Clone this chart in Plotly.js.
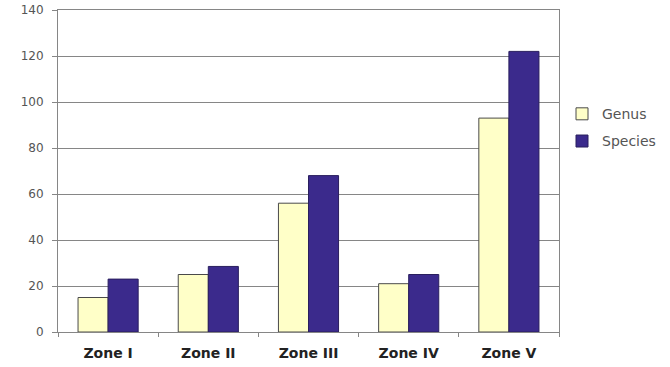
<!DOCTYPE html>
<html>
<head>
<meta charset="utf-8">
<script src="https://cdn.plot.ly/plotly-3.0.1.min.js"></script>
<style>
  html, body { margin: 0; padding: 0; background: #ffffff; }
  #chart { width: 670px; height: 367px; }
</style>
</head>
<body>
<div id="chart"></div>
<script>
// Zones sampled and the number of genera / species recorded in each
const zones = ['Zone I', 'Zone II', 'Zone III', 'Zone IV', 'Zone V'];
const genusCounts = [15, 25, 56, 21, 93];
const speciesCounts = [23, 28.5, 68, 25, 122];
const yTicks = [0, 20, 40, 60, 80, 100, 120, 140];

const gridColor = '#868686';

const traces = [
  {
    type: 'bar',
    name: 'Genus',
    x: zones,
    y: genusCounts,
    legendgroup: 'g',
    marker: { color: '#ffffc8', line: { color: '#4a4a4a', width: 1 } }
  },
  {
    type: 'bar',
    name: 'Species',
    x: zones,
    y: speciesCounts,
    legendgroup: 's',
    marker: { color: '#3b2a8c', line: { color: '#2a1f5e', width: 1 } }
  }
];

const layout = {
  width: 670,
  height: 367,
  margin: { l: 58, r: 111, t: 10, b: 35, autoexpand: false },
  paper_bgcolor: '#ffffff',
  plot_bgcolor: '#ffffff',
  barmode: 'group',
  bargap: 0.4,
  bargroupgap: 0,
  font: { family: '"DejaVu Sans", Verdana, sans-serif', color: '#444' },
  xaxis: {
    type: 'category',
    showline: true,
    mirror: true,
    linecolor: gridColor,
    linewidth: 1,
    ticks: 'outside',
    tickson: 'boundaries',
    ticklen: 4,
    tickcolor: gridColor,
    ticklabelstandoff: 8,
    showgrid: false,
    tickfont: { family: '"DejaVu Sans", Verdana, sans-serif', size: 14, color: '#222', weight: 'bold' },
    fixedrange: true
  },
  yaxis: {
    range: [0, 140],
    tickvals: yTicks,
    ticktext: yTicks.map(String),
    showline: true,
    mirror: true,
    linecolor: gridColor,
    linewidth: 1,
    ticks: 'outside',
    ticklen: 5,
    tickcolor: gridColor,
    ticklabelstandoff: 6,
    showgrid: true,
    gridcolor: gridColor,
    gridwidth: 1,
    zeroline: false,
    tickfont: { family: '"DejaVu Sans", Verdana, sans-serif', size: 12, color: '#555' },
    fixedrange: true
  },
  showlegend: true,
  legend: {
    x: 1.006,
    xanchor: 'left',
    y: 0.726,
    yanchor: 'top',
    traceorder: 'grouped',
    tracegroupgap: 6,
    itemwidth: 30,
    bgcolor: 'rgba(0,0,0,0)',
    font: { family: '"DejaVu Sans", Verdana, sans-serif', size: 14, color: '#555' }
  }
};

Plotly.newPlot('chart', traces, layout, { displayModeBar: false, staticPlot: true });
</script>
</body>
</html>
